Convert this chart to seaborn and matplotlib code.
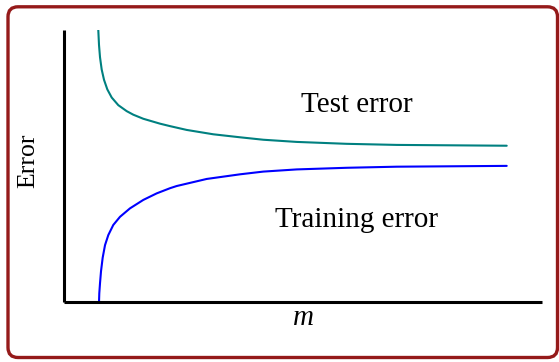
import matplotlib
matplotlib.use("Agg")
import matplotlib.pyplot as plt
import pandas as pd
import seaborn as sns
from matplotlib.patches import FancyBboxPatch

# values (x = m, y = error, arbitrary units)
test_m = [0.712, 0.727, 0.748, 0.783, 0.832, 0.901, 0.993, 1.131, 1.307,
          1.445, 1.655, 2.005, 2.214, 2.564, 3.121, 3.680, 4.168, 4.868,
          5.915, 6.963, 9.267]
test_err = [10.0, 9.45, 9.00, 8.55, 8.17, 7.82, 7.52, 7.24, 7.02,
            6.89, 6.74, 6.56, 6.47, 6.33, 6.17, 6.06, 5.97, 5.89,
            5.82, 5.78, 5.75]

train_m = [0.727, 0.733, 0.748, 0.769, 0.804, 0.853, 0.922, 1.026, 1.167,
           1.376, 1.655, 1.935, 2.214, 2.354, 2.983, 3.680, 4.168, 4.868,
           5.915, 6.963, 9.267]
train_err = [0.0, 0.33, 0.70, 1.14, 1.64, 2.10, 2.47, 2.84, 3.14,
             3.45, 3.76, 4.00, 4.19, 4.27, 4.53, 4.70, 4.80, 4.88,
             4.94, 4.98, 5.01]

sns.set_style("white")
plt.rcParams['font.family'] = ['Liberation Serif', 'DejaVu Serif']
plt.rcParams['text.color'] = 'black'
plt.rcParams['axes.labelcolor'] = 'black'
plt.rcParams['lines.solid_joinstyle'] = 'round'

fig = plt.figure(figsize=(5.59, 3.62), dpi=100)
ax = fig.add_axes([64.3 / 559, 1 - 302.3 / 362, 477.4 / 559, 272.3 / 362])

test = pd.DataFrame({"m": test_m, "error": test_err})
train = pd.DataFrame({"m": train_m, "error": train_err})
sns.lineplot(data=test, x="m", y="error", color="#008080", linewidth=1.5, ax=ax)
sns.lineplot(data=train, x="m", y="error", color="#0000ff", linewidth=1.5, ax=ax)

ax.set_xlim(0, 10)
ax.set_ylim(0, 10)
ax.set_xticks([])
ax.set_yticks([])
sns.despine(ax=ax)
for side in ["left", "bottom"]:
    ax.spines[side].set_color("black")
    ax.spines[side].set_linewidth(2.2)
    ax.spines[side].set_capstyle("butt")

ax.text(0.613, 0.70, "Test error", transform=ax.transAxes,
        ha="center", va="baseline", fontsize=21)
ax.text(0.6125, 0.278, "Training error", transform=ax.transAxes,
        ha="center", va="baseline", fontsize=21)

ax.set_xlabel("m", fontsize=21, style="italic", va="baseline")
ax.xaxis.set_label_coords(0.5, -0.083)
ax.set_ylabel("Error", fontsize=18.5)
ax.yaxis.set_label_coords(-0.053, 0.52)

# rounded frame around the whole figure (in inches so corners stay round)
frame = FancyBboxPatch((0.08, 0.045), 5.495, 3.507,
                       boxstyle="round,pad=0,rounding_size=0.1",
                       transform=fig.dpi_scale_trans, facecolor="none",
                       edgecolor="#951a1a", linewidth=2.4, clip_on=False)
fig.patches.append(frame)

fig.savefig("out.png", dpi=100)
